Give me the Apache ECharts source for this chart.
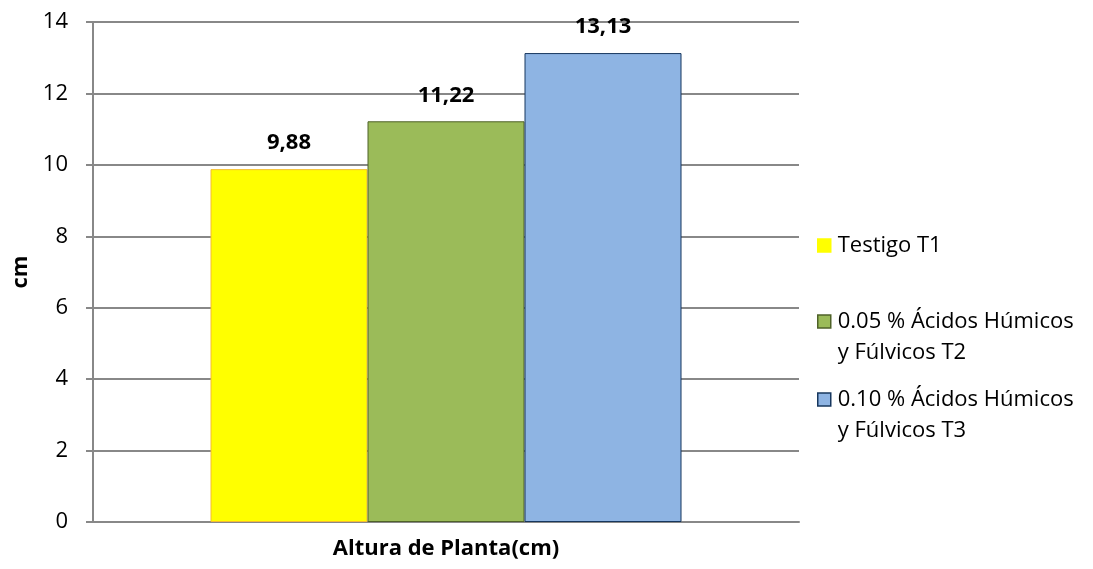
<!DOCTYPE html>
<html>
<head>
<meta charset="utf-8">
<script src="https://cdn.jsdelivr.net/npm/echarts@6/dist/echarts.min.js"></script>
<style>
  html, body { margin: 0; padding: 0; background: #fff; }
  #chart { width: 1093px; height: 569px; }
</style>
</head>
<body>
<div id="chart"></div>
<script>
// Plant height by treatment (cm)
const categories = ['Altura de Planta(cm)'];
const seriesNames = [
  'Testigo T1',
  '0.05 % Ácidos Húmicos y Fúlvicos T2',
  '0.10 % Ácidos Húmicos y Fúlvicos T3'
];
const t1Values = [9.88];
const t2Values = [11.22];
const t3Values = [13.13];
const yTicks = [0, 2, 4, 6, 8, 10, 12, 14];

const FONT = '"Open Sans", "Liberation Sans", sans-serif';
const FS = 22;
const LH = 31;
const fills = ['#FFFF00', '#9BBB59', '#8EB4E3'];
const borders = ['#F5BD2E', '#4F6228', '#17375E'];
const iconBorders = ['#FFFF00', '#4F6228', '#17375E'];
const valuesList = [t1Values, t2Values, t3Values];

const series = seriesNames.map((name, i) => ({
  name: name,
  type: 'bar',
  data: valuesList[i],
  barWidth: 157,
  barGap: '0%',
  itemStyle: { color: fills[i], borderColor: borders[i], borderWidth: 1 },
  label: {
    show: true,
    position: 'top',
    distance: 15,
    fontFamily: FONT,
    fontWeight: 'bold',
    fontSize: FS,
    color: '#000',
    formatter: p => p.value.toFixed(2).replace('.', ',')
  }
}));

// One legend block per series; wrapped names get an empty leading line so the
// icon lines up with the first line of text
const legendTops = [225, 270, 348];
const legends = seriesNames.map((name, i) => ({
  orient: 'vertical',
  left: 812,
  top: legendTops[i],
  itemWidth: 13,
  itemHeight: 13,
  icon: 'rect',
  data: [{
    name: name,
    itemStyle: { borderColor: iconBorders[i], borderWidth: 1.5 }
  }],
  formatter: n => n.indexOf(' y F') >= 0 ? '\n' + n.replace(' y F', '\ny F') : n,
  textStyle: {
    fontFamily: FONT,
    fontSize: FS,
    color: '#000',
    lineHeight: LH,
    padding: [0, 0, 0, 2]
  }
}));

const chart = echarts.init(document.getElementById('chart'), null, { renderer: 'canvas' });
chart.setOption({
  animation: false,
  backgroundColor: '#fff',
  grid: { left: 93, right: 294, top: 22, bottom: 47, containLabel: false, outerBoundsMode: 'none' },
  xAxis: {
    type: 'category',
    data: categories,
    axisLine: { show: true, lineStyle: { color: '#888', width: 2 } },
    axisTick: { show: false },
    axisLabel: {
      margin: 16,
      fontFamily: FONT,
      fontWeight: 'bold',
      fontSize: FS,
      color: '#000'
    }
  },
  yAxis: {
    type: 'value',
    min: yTicks[0],
    max: yTicks[yTicks.length - 1],
    interval: 2,
    name: 'cm',
    nameLocation: 'middle',
    nameGap: 59,
    nameRotate: 90,
    nameTextStyle: { fontFamily: FONT, fontWeight: 'bold', fontSize: FS, color: '#000' },
    axisLine: { show: true, lineStyle: { color: '#888', width: 2 } },
    axisTick: { show: true, length: 7, lineStyle: { color: '#888', width: 2 } },
    axisLabel: { margin: 25, fontFamily: FONT, fontSize: FS, color: '#000' },
    splitLine: { show: true, lineStyle: { color: '#888', width: 2 } }
  },
  legend: legends,
  series: series
});
</script>
</body>
</html>
